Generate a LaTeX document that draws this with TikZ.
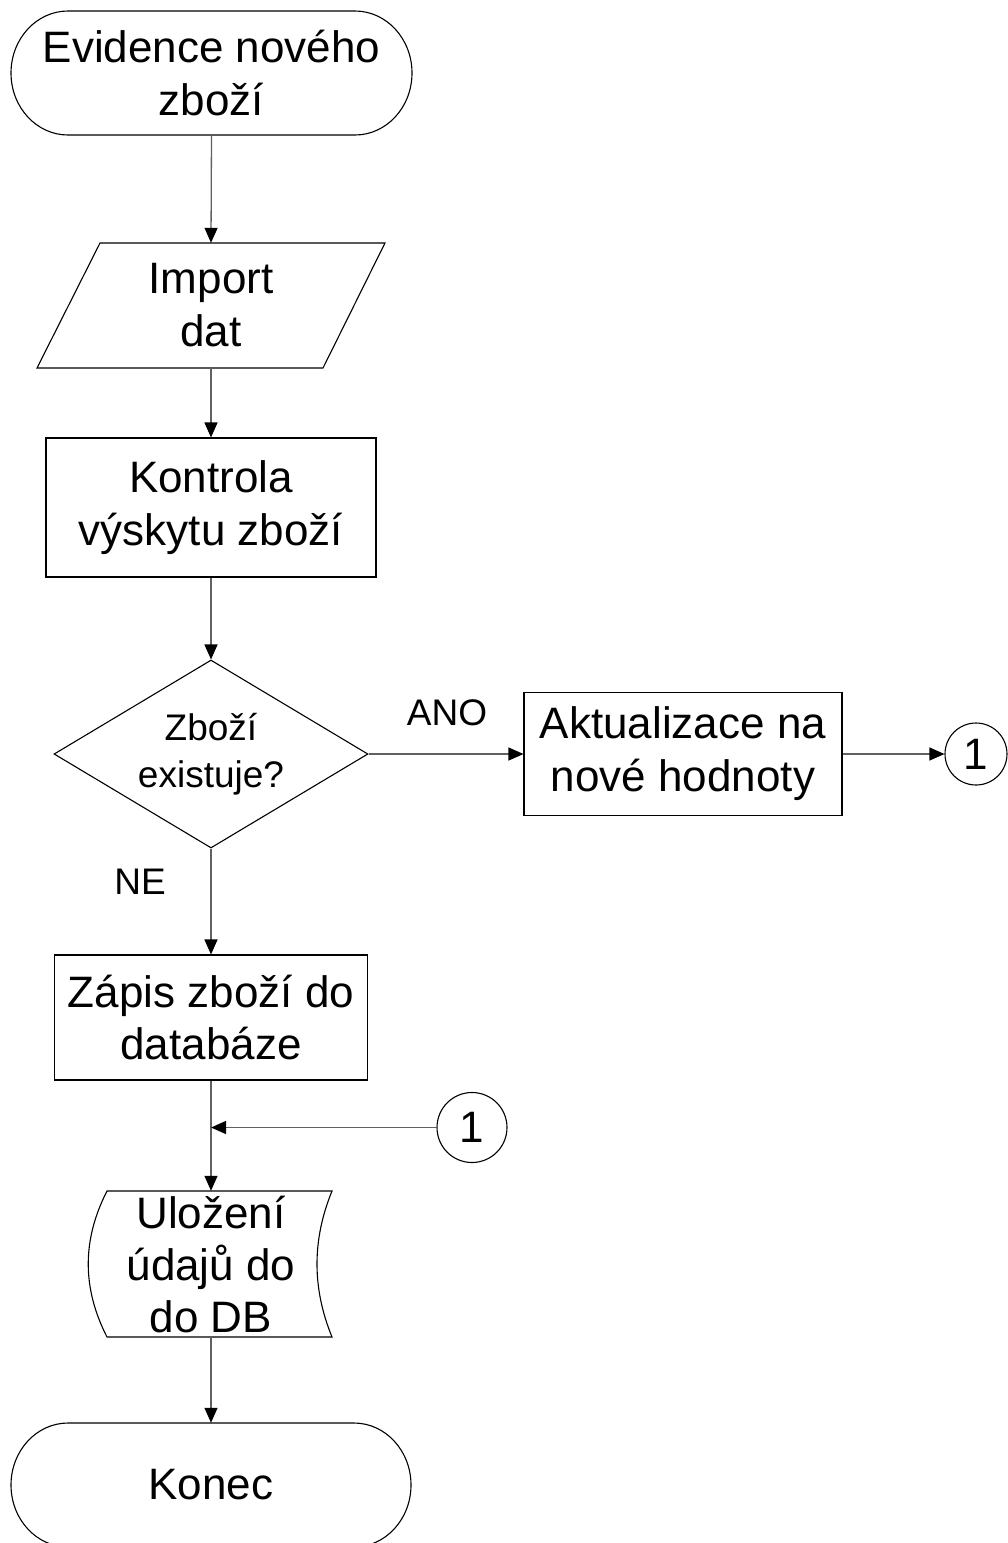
\documentclass[tikz,border=0pt]{standalone}
\usepackage{fontspec}
\setmainfont{Liberation Sans}
\usetikzlibrary{shapes.geometric,arrows.meta}
\begin{document}
\begin{tikzpicture}[x=1pt,y=-1pt,
  every node/.style={align=center, inner sep=0pt, font=\fontsize{44}{53}\selectfont},
  shapeline/.style={draw=black, line width=1.1pt},
  boxnode/.style={shapeline, rectangle},
  conn/.style={draw=black!62, line width=1.3pt, -{Triangle[length=15pt,width=13pt,black]}},
  lbl/.style={font=\fontsize{37}{44}\selectfont},
]
\useasboundingbox (0,0) rectangle (1008,1543);

% start terminal
\node[minimum width=401pt, minimum height=124pt] (start) at (211.5,73) {Evidence nového\\zboží};
\draw[shapeline] (68,11) -- (355,11) arc[start angle=-90,end angle=90,x radius=57,y radius=62]
  -- (68,135) arc[start angle=90,end angle=270,x radius=57,y radius=62] -- cycle;

% import (parallelogram)
\draw[shapeline] (100,243) -- (385,243) -- (323,368) -- (37,368) -- cycle;
\node[minimum width=285pt, minimum height=125pt] (imp) at (211,305.5) {Import\\dat};

% kontrola
\node[boxnode, minimum width=330pt, minimum height=139pt] (kontrola) at (211,507.5) {Kontrola\\výskytu zboží};

% decision
\node[shapeline, diamond, shape aspect=1.67, minimum width=314pt, minimum height=188pt,
  font=\fontsize{37}{47}\selectfont] (dec) at (211,754) {Zboží\\existuje?};

% aktualizace
\node[boxnode, minimum width=318pt, minimum height=123pt] (akt) at (683,754) {Aktualizace na\\nové hodnoty};
\node[shapeline, circle, minimum size=62pt] (c1) at (976,754) {1};

% zapis
\node[boxnode, minimum width=313pt, minimum height=125pt] (zapis) at (211,1017.5) {Zápis zboží do\\databáze};

% connector circle 2
\node[shapeline, circle, minimum size=70pt] (c2) at (472,1127.5) {1};
\coordinate (join) at (211,1127.5);

% stored data
\draw[shapeline] (107,1191) -- (332,1191) .. controls (312,1240) and (312,1288) .. (332,1337)
  -- (107,1337) .. controls (82,1288) and (82,1240) .. (107,1191) -- cycle;
\node[minimum width=242pt, minimum height=146pt, font=\fontsize{44}{52}\selectfont] (ulo) at (211,1264) {Uložení\\údajů do\\do DB};

% end terminal
\node[minimum width=400pt, minimum height=124pt] (konec) at (211,1485) {Konec};
\draw[shapeline] (68,1423) -- (354,1423) arc[start angle=-90,end angle=90,x radius=57,y radius=62]
  -- (68,1547) arc[start angle=90,end angle=270,x radius=57,y radius=62] -- cycle;

% labels
\node[lbl] (ano) at (447,713) {ANO};
\node[lbl] (ne) at (140,882) {NE};

% connectors
\draw[conn] (start.south) -- (imp.north);
\draw[conn] (imp.south) -- (kontrola.north);
\draw[conn] (kontrola.south) -- (dec.north);
\draw[conn] (dec.east) -- (akt.west);
\draw[conn] (akt.east) -- (c1.west);
\draw[conn] (dec.south) -- (zapis.north);
\draw[conn] (zapis.south) -- (ulo.north);
\draw[conn] (c2.west) -- (join);
\draw[conn] (ulo.south) -- (konec.north);
\end{tikzpicture}
\end{document}
